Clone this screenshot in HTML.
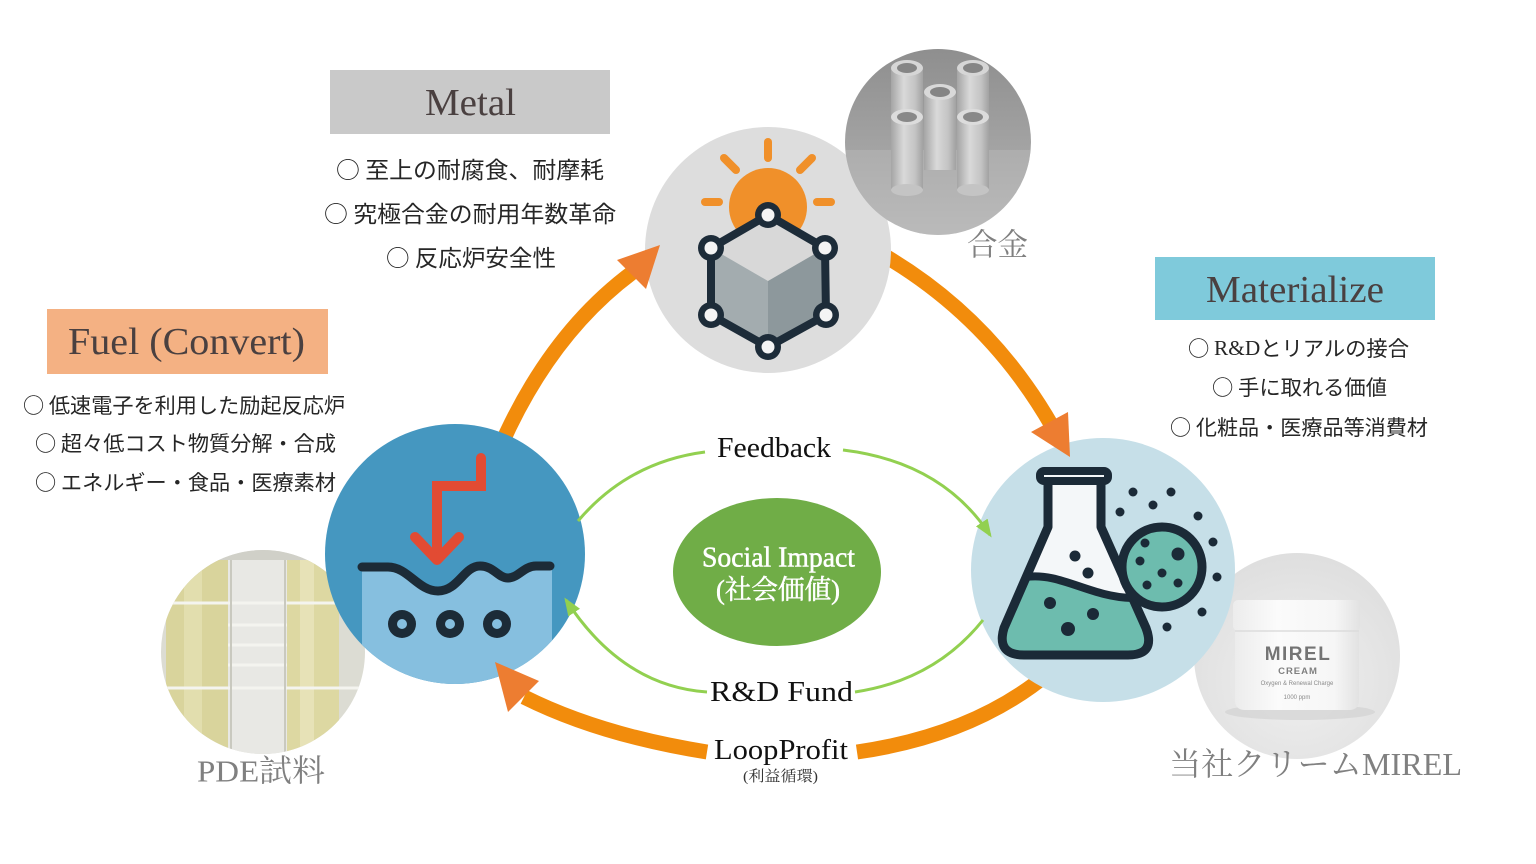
<!DOCTYPE html>
<html><head><meta charset="utf-8"><style>
html,body{margin:0;padding:0;background:#fff;}
svg{display:block;}
</style></head><body>
<svg width="1536" height="864" viewBox="0 0 1536 864" xmlns="http://www.w3.org/2000/svg">
<defs>
<marker id="ga" markerUnits="userSpaceOnUse" markerWidth="18" markerHeight="14" viewBox="0 0 18 14" refX="15" refY="7" orient="auto"><path d="M0,0 L18,7 L0,14 z" fill="#92d050"/></marker>
<clipPath id="cpM"><circle cx="938" cy="142" r="93"/></clipPath>
<clipPath id="cpF"><circle cx="263" cy="652" r="102"/></clipPath>
<clipPath id="cpC"><circle cx="1297" cy="656" r="103"/></clipPath>
<clipPath id="cpB"><circle cx="455" cy="554" r="130"/></clipPath>
<clipPath id="cpFl"><path d="M1048 484 V527 L1004 628 Q996 655 1024 655 H1128 Q1156 655 1146 628 L1101 527 V484 Z"/></clipPath>
<linearGradient id="gM" x1="0" y1="0" x2="0" y2="1"><stop offset="0" stop-color="#8e8e8e"/><stop offset="0.55" stop-color="#a4a4a4"/><stop offset="1" stop-color="#bebebe"/></linearGradient>
<linearGradient id="gT" x1="0" y1="0" x2="1" y2="0"><stop offset="0" stop-color="#a5a5a5"/><stop offset="0.4" stop-color="#d9d9d9"/><stop offset="0.75" stop-color="#c4c4c4"/><stop offset="1" stop-color="#a2a2a2"/></linearGradient>
<radialGradient id="gC" cx="0.5" cy="0.6" r="0.6"><stop offset="0" stop-color="#f0f0f0"/><stop offset="1" stop-color="#dedede"/></radialGradient>
<linearGradient id="gJ" x1="0" y1="0" x2="1" y2="0"><stop offset="0" stop-color="#ececec"/><stop offset="0.35" stop-color="#fbfbfb"/><stop offset="0.8" stop-color="#f6f6f6"/><stop offset="1" stop-color="#e2e2e2"/></linearGradient>
</defs>

<!-- orange shafts -->
<g stroke="#f28c0c" stroke-width="15" fill="none">
<path d="M498 452 Q548 335 633 272"/>
<path d="M885 256 Q990 318 1052 426"/>
<path d="M1050 672 Q975 735 857 752"/>
<path d="M707 752 Q600 735 524 697"/>
</g>

<!-- Metal circle + icon -->
<circle cx="768" cy="250" r="123" fill="#dddddd"/>
<g stroke="#f0902a" stroke-width="8" stroke-linecap="round">
<line x1="768" y1="142" x2="768" y2="158"/>
<line x1="724" y1="158" x2="736" y2="170"/>
<line x1="812" y1="158" x2="800" y2="170"/>
<line x1="705" y1="202" x2="719" y2="202"/>
<line x1="817" y1="202" x2="831" y2="202"/>
</g>
<circle cx="768" cy="207" r="39" fill="#f0902a"/>
<path d="M768 215 L825 248 L768 281 L711 248 Z" fill="#d8d8d8"/>
<path d="M711 248 L768 281 L768 347 L711 315 Z" fill="#a3acaf"/>
<path d="M768 281 L825 248 L826 315 L768 347 Z" fill="#8d989c"/>
<path d="M768 215 L825 248 L826 315 L768 347 L711 315 L711 248 Z" fill="none" stroke="#1d2c39" stroke-width="8" stroke-linejoin="round"/>
<g fill="#1d2c39">
<circle cx="768" cy="215" r="13"/><circle cx="825" cy="248" r="13"/><circle cx="826" cy="315" r="13"/>
<circle cx="768" cy="347" r="13"/><circle cx="711" cy="315" r="13"/><circle cx="711" cy="248" r="13"/>
</g>
<g fill="#f4f4f4">
<circle cx="768" cy="215" r="6.5"/><circle cx="825" cy="248" r="6.5"/><circle cx="826" cy="315" r="6.5"/>
<circle cx="768" cy="347" r="6.5"/><circle cx="711" cy="315" r="6.5"/><circle cx="711" cy="248" r="6.5"/>
</g>

<!-- Metal photo -->
<g clip-path="url(#cpM)">
<rect x="843" y="47" width="192" height="192" fill="url(#gM)"/>
<polygon points="843,150 1035,150 1035,240 843,240" fill="#b8b8b8" opacity="0.5"/>
<g>
<rect x="891" y="68" width="32" height="117" fill="url(#gT)"/><ellipse cx="907" cy="68" rx="16" ry="8" fill="#d6d6d6"/><ellipse cx="907" cy="68" rx="10" ry="5" fill="#858585"/>
<rect x="957" y="68" width="32" height="117" fill="url(#gT)"/><ellipse cx="973" cy="68" rx="16" ry="8" fill="#d6d6d6"/><ellipse cx="973" cy="68" rx="10" ry="5" fill="#858585"/>
<rect x="924" y="92" width="32" height="78" fill="url(#gT)"/><ellipse cx="940" cy="92" rx="16" ry="8" fill="#d9d9d9"/><ellipse cx="940" cy="92" rx="10" ry="5" fill="#858585"/>
<rect x="891" y="117" width="32" height="73" fill="url(#gT)"/><ellipse cx="907" cy="190" rx="16" ry="6" fill="#c4c4c4"/><ellipse cx="907" cy="117" rx="16" ry="8" fill="#dcdcdc"/><ellipse cx="907" cy="117" rx="10" ry="5" fill="#888888"/>
<rect x="957" y="117" width="32" height="73" fill="url(#gT)"/><ellipse cx="973" cy="190" rx="16" ry="6" fill="#c4c4c4"/><ellipse cx="973" cy="117" rx="16" ry="8" fill="#dcdcdc"/><ellipse cx="973" cy="117" rx="10" ry="5" fill="#888888"/>
</g>
</g>

<!-- Fuel photo -->
<g clip-path="url(#cpF)">
<rect x="160" y="549" width="210" height="210" fill="#dcdcd3"/>
<rect x="160" y="549" width="210" height="35" fill="#d0d0c8"/>
<rect x="228" y="560" width="59" height="200" fill="#e8e8e4"/>
<rect x="166" y="560" width="62" height="200" fill="#d9d49c"/>
<rect x="184" y="560" width="18" height="200" fill="#e6e2b6" opacity="0.7"/>
<rect x="287" y="560" width="52" height="200" fill="#ddd8a2"/>
<rect x="300" y="560" width="14" height="200" fill="#ebe7c0" opacity="0.7"/>
<g stroke="#f4f4ef" stroke-width="3">
<line x1="160" y1="603" x2="370" y2="603"/><line x1="160" y1="688" x2="370" y2="688"/>
<line x1="228" y1="625" x2="287" y2="625"/><line x1="228" y1="645" x2="287" y2="645"/><line x1="228" y1="665" x2="287" y2="665"/>
</g>
<g stroke="#c9c9bf" stroke-width="2"><line x1="231" y1="560" x2="231" y2="760"/><line x1="285" y1="560" x2="285" y2="760"/></g>
</g>

<!-- Blue circle + icon -->
<circle cx="455" cy="554" r="130" fill="#4597c0"/>
<g clip-path="url(#cpB)">
<path d="M362 567 H388 C408 567 418 591 438 591 C458 591 464 566 480 566 C494 566 498 578 508 578 C518 578 524 566 536 566 H552 V700 H362 Z" fill="#86bfdf"/>
</g>
<path d="M362 567 H388 C408 567 418 591 438 591 C458 591 464 566 480 566 C494 566 498 578 508 578 C518 578 524 566 536 566 H550" fill="none" stroke="#1c2b37" stroke-width="9" stroke-linecap="round"/>
<g fill="#1c2b37"><circle cx="402" cy="624" r="14"/><circle cx="450" cy="624" r="14"/><circle cx="497" cy="624" r="14"/></g>
<g fill="#86bfdf"><circle cx="402" cy="624" r="5"/><circle cx="450" cy="624" r="5"/><circle cx="497" cy="624" r="5"/></g>
<path d="M481 458 V486 H437 V559" fill="none" stroke="#e24b33" stroke-width="10" stroke-linecap="round" stroke-linejoin="miter"/>
<path d="M415 537 L437 560 L459 537" fill="none" stroke="#e24b33" stroke-width="10" stroke-linecap="round" stroke-linejoin="round"/>

<!-- Cream photo -->
<g clip-path="url(#cpC)">
<rect x="1190" y="550" width="215" height="215" fill="url(#gC)"/>
<ellipse cx="1300" cy="712" rx="75" ry="8" fill="#cfcfcf" opacity="0.6"/>
<path d="M1235 630 H1359 V700 Q1359 710 1349 710 H1245 Q1235 710 1235 700 Z" fill="url(#gJ)"/>
<rect x="1233" y="600" width="127" height="31" rx="5" fill="url(#gJ)"/>
<line x1="1235" y1="631" x2="1359" y2="631" stroke="#dcdcdc" stroke-width="1.5"/>
<text x="1298" y="660" text-anchor="middle" font-family="Liberation Sans, sans-serif" font-weight="bold" font-size="19" letter-spacing="1.5" fill="#747474">MIREL</text>
<text x="1298" y="674" text-anchor="middle" font-family="Liberation Sans, sans-serif" font-weight="bold" font-size="9.5" letter-spacing="1" fill="#808080">CREAM</text>
<text x="1297" y="685" text-anchor="middle" font-family="Liberation Sans, sans-serif" font-size="6" fill="#8a8a8a">Oxygen &amp; Renewal Charge</text>
<text x="1297" y="699" text-anchor="middle" font-family="Liberation Sans, sans-serif" font-size="6" fill="#8a8a8a">1000 ppm</text>
</g>

<!-- Flask circle + icon -->
<circle cx="1103" cy="570" r="132" fill="#c6dfe8"/>
<path d="M1048 484 V527 L1004 628 Q996 655 1024 655 H1128 Q1156 655 1146 628 L1101 527 V484 Z" fill="#f4f7f9"/>
<g clip-path="url(#cpFl)">
<path d="M990 577 L1026 577 C1060 572 1090 597 1132 598 L1170 598 V670 H990 Z" fill="#6dbcae"/>
</g>
<path d="M1026 577 C1060 572 1090 597 1132 598" fill="none" stroke="#1b2a37" stroke-width="8"/>
<path d="M1048 484 V527 L1004 628 Q996 655 1024 655 H1128 Q1156 655 1146 628 L1101 527 V484" fill="none" stroke="#1b2a37" stroke-width="9" stroke-linejoin="round"/>
<rect x="1040" y="471" width="68" height="10" rx="4" fill="#f4f7f9" stroke="#1b2a37" stroke-width="8"/>
<g fill="#1b2a37">
<circle cx="1075" cy="556" r="5.5"/><circle cx="1088" cy="573" r="5.5"/>
<circle cx="1050" cy="603" r="6"/><circle cx="1093" cy="614" r="6"/><circle cx="1068" cy="629" r="7"/>
</g>
<circle cx="1162" cy="567" r="40" fill="#6dbcae" stroke="#1b2a37" stroke-width="9"/>
<g fill="#1b2a37">
<circle cx="1145" cy="543" r="4.5"/><circle cx="1178" cy="554" r="6.5"/><circle cx="1140" cy="561" r="4.5"/>
<circle cx="1162" cy="573" r="4.5"/><circle cx="1147" cy="585" r="4.5"/><circle cx="1178" cy="583" r="4.5"/>
<circle cx="1133" cy="492" r="4.5"/><circle cx="1171" cy="492" r="4.5"/><circle cx="1153" cy="505" r="4.5"/>
<circle cx="1120" cy="512" r="4.5"/><circle cx="1198" cy="516" r="4.5"/><circle cx="1213" cy="542" r="4.5"/>
<circle cx="1217" cy="577" r="4.5"/><circle cx="1202" cy="612" r="4.5"/><circle cx="1167" cy="627" r="4.5"/>
</g>

<!-- green arrows -->
<g stroke="#92d050" stroke-width="3" fill="none">
<path d="M578 521 Q628 462 705 452"/>
<path d="M843 450 Q942 462 990 535" marker-end="url(#ga)"/>
<path d="M983 620 Q935 680 855 692"/>
<path d="M707 692 Q622 686 566 600" marker-end="url(#ga)"/>
</g>

<!-- orange arrowheads -->
<g fill="#ed7d31">
<polygon points="617,260 660,245 646,289"/>
<polygon points="1031,432 1068,412 1070,457"/>
<polygon points="495,662 539,681 508,712"/>
</g>

<!-- center ellipse -->
<ellipse cx="777" cy="572" rx="104" ry="74" fill="#70ad47"/>

<!-- boxes -->
<rect x="330" y="70" width="280" height="64" fill="#c9c9c9"/>
<rect x="47" y="309" width="281" height="65" fill="#f4b183"/>
<rect x="1155" y="257" width="280" height="63" fill="#7fcadb"/>

<!-- titles -->
<g font-family="Liberation Serif, serif" fill="#4a4040" dominant-baseline="central">
<text x="425" y="103" font-size="38" textLength="91" lengthAdjust="spacingAndGlyphs">Metal</text>
<text x="68" y="342" font-size="38" textLength="237" lengthAdjust="spacingAndGlyphs">Fuel (Convert)</text>
<text x="1206" y="290" font-size="38" textLength="178" lengthAdjust="spacingAndGlyphs">Materialize</text>
</g>

<!-- bullets -->
<g font-family="Noto Sans CJK JP, Liberation Serif, sans-serif" fill="#262626" dominant-baseline="central">
<text x="336" y="168" font-size="23" textLength="268" lengthAdjust="spacingAndGlyphs">○ 至上の耐腐食、耐摩耗</text>
<text x="324" y="212" font-size="23" textLength="292" lengthAdjust="spacingAndGlyphs">○ 究極合金の耐用年数革命</text>
<text x="386" y="256" font-size="23" textLength="170" lengthAdjust="spacingAndGlyphs">○ 反応炉安全性</text>
<text x="23" y="405" font-size="21" textLength="322" lengthAdjust="spacingAndGlyphs">○ 低速電子を利用した励起反応炉</text>
<text x="35" y="443" font-size="21" textLength="301" lengthAdjust="spacingAndGlyphs">○ 超々低コスト物質分解・合成</text>
<text x="35" y="482" font-size="21" textLength="301" lengthAdjust="spacingAndGlyphs">○ エネルギー・食品・医療素材</text>
<text x="1188" y="348" font-size="21" textLength="221" lengthAdjust="spacingAndGlyphs">○ <tspan font-family="Liberation Serif, serif">R&amp;D</tspan>とリアルの接合</text>
<text x="1212" y="387" font-size="21" textLength="175" lengthAdjust="spacingAndGlyphs">○ 手に取れる価値</text>
<text x="1170" y="427" font-size="21" textLength="258" lengthAdjust="spacingAndGlyphs">○ 化粧品・医療品等消費材</text>
</g>

<!-- photo captions -->
<g font-family="Liberation Serif, Noto Serif CJK SC, serif" fill="#808080" dominant-baseline="central">
<text x="967" y="245" font-size="31" textLength="61" lengthAdjust="spacingAndGlyphs">合金</text>
<text x="197" y="771" font-size="31" textLength="128" lengthAdjust="spacingAndGlyphs">PDE試料</text>
<text x="1169" y="764" font-size="32" textLength="293" lengthAdjust="spacingAndGlyphs">当社クリームMIREL</text>
</g>

<!-- flow labels -->
<g font-family="Liberation Serif, Noto Serif CJK SC, serif" fill="#111" dominant-baseline="central">
<text x="717" y="448" font-size="29" textLength="114" lengthAdjust="spacingAndGlyphs">Feedback</text>
<text x="710" y="692" font-size="29" textLength="143" lengthAdjust="spacingAndGlyphs">R&amp;D Fund</text>
<text x="714" y="750" font-size="29" textLength="134" lengthAdjust="spacingAndGlyphs">LoopProfit</text>
<text x="743" y="777" font-size="15" textLength="75" lengthAdjust="spacingAndGlyphs" fill="#333">(利益循環)</text>
</g>
<g font-family="Liberation Serif, Noto Serif CJK SC, serif" fill="#ffffff" stroke="#ffffff" stroke-width="0.5" dominant-baseline="central">
<text x="702" y="558" font-size="28" textLength="153" lengthAdjust="spacingAndGlyphs">Social Impact</text>
<text x="716" y="590" font-size="27" textLength="124" lengthAdjust="spacingAndGlyphs">(社会価値)</text>
</g>
</svg>
</body></html>
